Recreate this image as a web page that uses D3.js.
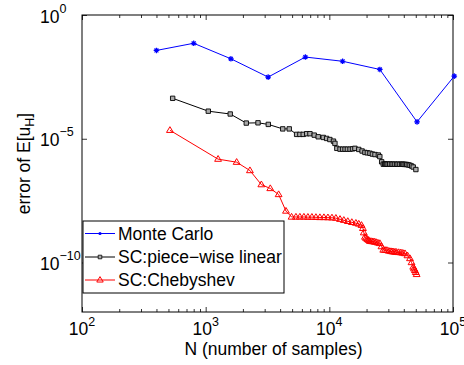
<!DOCTYPE html>
<html lang="en">
<head>
<meta charset="utf-8">
<title>error vs N</title>
<script src="https://d3js.org/d3.v7.min.js"></script>
<style>
  body { margin: 0; background: #fff; }
  text { font-family: "Liberation Sans", Arial, Helvetica, sans-serif; fill: #000; }
</style>
</head>
<body>
<script>
// ---- data ----
var seriesNames = ["Monte Carlo", "SC:piece\u2212wise linear", "SC:Chebyshev"];

var mcN   = [400, 800, 1600, 3200, 6400, 12800, 25600, 51200, 102400];
var mcErr = [3.7e-2, 7.2e-2, 1.7e-2, 3.1e-3, 2.0e-2, 1.35e-2, 6.3e-3, 4.8e-5, 3.4e-3];

var pwN   = [541, 1050, 1580, 2130, 2650, 3210, 4200, 4740, 5440, 5780, 6150, 6560, 6970, 7550,
             8130, 8930, 9510, 10100, 10800, 11100, 11500, 12200, 12800, 13400, 14000, 14700,
             15400, 16100, 17300, 18400, 19400, 20300, 21300, 22300, 23400, 24900, 25600, 26500,
             27300, 28000, 28500, 29200, 29900, 30800, 31800, 32800, 33900, 35000, 36000, 37200,
             38400, 39300, 40200, 41200, 42200, 43500, 44900, 46300, 47700, 50100];
var pwErr = [4.3e-4, 1.3e-4, 1.0e-4, 4.3e-5, 4.4e-5, 3.8e-5, 2.5e-5, 2.5e-5, 1.5e-5, 1.5e-5,
             1.5e-5, 1.6e-5, 1.6e-5, 1.4e-5, 1.2e-5, 1.13e-5, 1.03e-5, 9.3e-6, 8.0e-6, 6.5e-6,
             4.1e-6, 3.8e-6, 3.8e-6, 3.8e-6, 3.8e-6, 3.8e-6, 3.9e-6, 4.1e-6, 3.7e-6, 3.2e-6,
             2.8e-6, 2.7e-6, 2.6e-6, 2.4e-6, 2.3e-6, 2.2e-6, 1.9e-6, 1.17e-6, 9.4e-7, 9.5e-7,
             9.4e-7, 9.4e-7, 9.4e-7, 9.5e-7, 9.4e-7, 9.4e-7, 9.4e-7, 9.3e-7, 9.4e-7, 9.3e-7,
             9.4e-7, 9.3e-7, 9.2e-7, 9.2e-7, 9.1e-7, 8.8e-7, 8.5e-7, 7.9e-7, 7.2e-7, 5.7e-7];

var chN   = [514, 1260, 1780, 2280, 2820, 3330, 3890, 4460, 4950, 5370, 5780, 6230, 6710, 7230,
             7790, 8390, 9040, 9740, 10500, 11300, 12200, 13100, 14100, 15200, 16400, 17300,
             18200, 18700, 19000, 19400, 19800, 20300, 20800, 21300, 21900, 22500, 23100, 23800,
             24700, 25600, 26400, 27300, 28200, 29200, 30300, 31500, 32300, 33200, 34100, 35000,
             36400, 37900, 39300, 40900, 42800, 44900, 46200, 47700, 48400, 49200, 50000, 50800];
var chErr = [2.2e-5, 1.5e-6, 1.13e-6, 5.2e-7, 1.4e-7, 9.8e-8, 5.6e-8, 1.2e-8, 6.9e-9, 6.9e-9,
             6.9e-9, 6.9e-9, 6.8e-9, 6.8e-9, 6.7e-9, 6.6e-9, 6.6e-9, 6.5e-9, 6.4e-9, 6.2e-9,
             5.6e-9, 5.1e-9, 4.6e-9, 4.2e-9, 3.9e-9, 3.6e-9, 3.2e-9, 2.4e-9, 1.6e-9, 1.07e-9,
             9.6e-10, 8.7e-10, 7.9e-10, 7.2e-10, 7.1e-10, 7.0e-10, 6.8e-10, 6.6e-10, 6.2e-10,
             5.9e-10, 4.4e-10, 3.2e-10, 3.15e-10, 3.1e-10, 2.9e-10, 2.8e-10, 2.75e-10, 2.7e-10,
             2.65e-10, 2.6e-10, 2.55e-10, 2.5e-10, 2.4e-10, 2.3e-10, 1.9e-10, 1.45e-10, 1.0e-10,
             6.6e-11, 5.6e-11, 4.8e-11, 4.0e-11, 3.3e-11];

var xMajor = [1e2, 1e3, 1e4, 1e5];
var xMajorExp = ["2", "3", "4", "5"];
var yMajor = [1e0, 1e-5, 1e-10];
var yMajorExp = ["0", "\u22125", "\u221210"];

// ---- layout ----
var w = 464, h = 365;
var pLeft = 82, pRight = 453, pTop = 15, pBottom = 312;
var fs = "17.5px", fsSup = "12.5px";

var xScale = d3.scaleLog().domain([1e2, 1e5]).range([pLeft, pRight]);
var yScale = d3.scaleLog().domain([1e-12, 1e0]).range([pBottom, pTop]);

var svg = d3.select("body").append("svg").attr("width", w).attr("height", h);

// minor x ticks (2..9 of each decade)
var xMinor = [];
[1e2, 1e3, 1e4].forEach(function (d) {
  for (var k = 2; k <= 9; k++) xMinor.push(d * k);
});

// ---- axes: ticks point inward, box on ----
var noLab = function () { return ""; };
var xAxisB = d3.axisBottom(xScale).tickValues(xMajor).tickSize(-5).tickFormat(noLab);
var xAxisT = d3.axisTop(xScale).tickValues(xMajor).tickSize(-5).tickFormat(noLab);
var yAxisL = d3.axisLeft(yScale).tickValues(yMajor).tickSize(-5).tickFormat(noLab);
var yAxisR = d3.axisRight(yScale).tickValues(yMajor).tickSize(-5).tickFormat(noLab);
var xMinB = d3.axisBottom(xScale).tickValues(xMinor).tickSize(-3).tickFormat(noLab);
var xMinT = d3.axisTop(xScale).tickValues(xMinor).tickSize(-3).tickFormat(noLab);

svg.append("g").attr("transform", "translate(0," + pBottom + ")").call(xAxisB);
svg.append("g").attr("transform", "translate(0," + pBottom + ")").call(xMinB);
svg.append("g").attr("transform", "translate(0," + pTop + ")").call(xAxisT);
svg.append("g").attr("transform", "translate(0," + pTop + ")").call(xMinT);
svg.append("g").attr("transform", "translate(" + pLeft + ",0)").call(yAxisL);
svg.append("g").attr("transform", "translate(" + pRight + ",0)").call(yAxisR);
svg.selectAll(".domain").attr("stroke", "none");
svg.selectAll(".tick line").attr("stroke", "#000").attr("stroke-width", 0.8);

svg.append("rect").attr("x", pLeft).attr("y", pTop)
  .attr("width", pRight - pLeft).attr("height", pBottom - pTop)
  .attr("fill", "none").attr("stroke", "#000").attr("stroke-width", 1);

// tick labels with superscripts
var xl = svg.append("g").selectAll("text").data(xMajor).enter().append("text")
  .attr("x", function (d) { return xScale(d); }).attr("y", 335)
  .attr("text-anchor", "middle").style("font-size", fs);
xl.append("tspan").text("10");
xl.append("tspan").attr("dy", -9).style("font-size", fsSup).text(function (d, i) { return xMajorExp[i]; });

var yl = svg.append("g").selectAll("text").data(yMajor).enter().append("text")
  .attr("x", 40).attr("y", function (d) { return yScale(d) + 7.7; })
  .attr("text-anchor", "start").style("font-size", fs);
yl.append("tspan").text("10");
yl.append("tspan").attr("dy", -10).style("font-size", fsSup).text(function (d, i) { return yMajorExp[i]; });

// axis titles
svg.append("text").attr("x", (pLeft + pRight) / 2 + 6).attr("y", 355)
  .attr("text-anchor", "middle").style("font-size", fs).text("N (number of samples)");

var yt = svg.append("text").attr("transform", "translate(30," + ((pTop + pBottom) / 2) + ") rotate(-90)")
  .attr("text-anchor", "middle").style("font-size", fs);
yt.append("tspan").text("error of E[u");
yt.append("tspan").attr("dy", 4).style("font-size", fsSup).text("H");
yt.append("tspan").attr("dy", -4).text("]");

// ---- series ----
function zip(a, b) { return a.map(function (v, i) { return [v, b[i]]; }); }
var mcData = zip(mcN, mcErr), pwData = zip(pwN, pwErr), chData = zip(chN, chErr);

var line = d3.line().x(function (d) { return xScale(d[0]); }).y(function (d) { return yScale(d[1]); });

var blue = "#0000ff", red = "#ff0000";

svg.append("path").datum(mcData).attr("d", line).attr("fill", "none").attr("stroke", blue).attr("stroke-width", 1);
svg.append("path").datum(pwData).attr("d", line).attr("fill", "none").attr("stroke", "#000").attr("stroke-width", 1);
svg.append("path").datum(chData).attr("d", line).attr("fill", "none").attr("stroke", red).attr("stroke-width", 1);

function asterisk(r) {
  var a = r * 0.7;
  return "M" + (-r) + ",0L" + r + ",0M0," + (-r) + "L0," + r +
    "M" + (-a) + "," + (-a) + "L" + a + "," + a + "M" + (-a) + "," + a + "L" + a + "," + (-a);
}
function square(s) { return "M" + (-s) + "," + (-s) + "h" + (2 * s) + "v" + (2 * s) + "h" + (-2 * s) + "Z"; }
function triangle(s) { return "M0," + (-s) + "L" + (s * 0.95) + "," + (s * 0.6) + "L" + (-s * 0.95) + "," + (s * 0.6) + "Z"; }

svg.append("g").selectAll("path").data(mcData).enter().append("path")
  .attr("transform", function (d) { return "translate(" + xScale(d[0]) + "," + yScale(d[1]) + ")"; })
  .attr("d", asterisk(2.8)).attr("stroke", blue).attr("stroke-width", 1.2).attr("fill", "none");

svg.append("g").selectAll("path").data(pwData).enter().append("path")
  .attr("transform", function (d) { return "translate(" + xScale(d[0]) + "," + yScale(d[1]) + ")"; })
  .attr("d", square(2.2)).attr("stroke", "#000").attr("stroke-width", 0.9).attr("fill", "#aaa");

svg.append("g").selectAll("path").data(chData).enter().append("path")
  .attr("transform", function (d) { return "translate(" + xScale(d[0]) + "," + yScale(d[1]) + ")"; })
  .attr("d", triangle(3.6)).attr("stroke", red).attr("stroke-width", 1).attr("fill", "none");

// ---- legend ----
var lg = svg.append("g");
lg.append("rect").attr("x", 83).attr("y", 221).attr("width", 201).attr("height", 72)
  .attr("fill", "#fff").attr("stroke", "#000").attr("stroke-width", 1);
var legColors = [blue, "#000", red];
var legY = [233.5, 257, 280];
seriesNames.forEach(function (name, i) {
  lg.append("line").attr("x1", 85).attr("x2", 115).attr("y1", legY[i]).attr("y2", legY[i])
    .attr("stroke", legColors[i]).attr("stroke-width", 1);
  var m = lg.append("path").attr("transform", "translate(100," + legY[i] + ")");
  if (i === 0) m.attr("d", d3.symbol().type(d3.symbolCircle).size(8)()).attr("fill", blue);
  if (i === 1) m.attr("d", square(1.8)).attr("stroke", "#000").attr("stroke-width", 0.8).attr("fill", "#aaa");
  if (i === 2) m.attr("d", triangle(3.4)).attr("stroke", red).attr("fill", "none");
  lg.append("text").attr("x", 118).attr("y", legY[i] + 6).style("font-size", fs).text(name);
});
</script>
</body>
</html>
